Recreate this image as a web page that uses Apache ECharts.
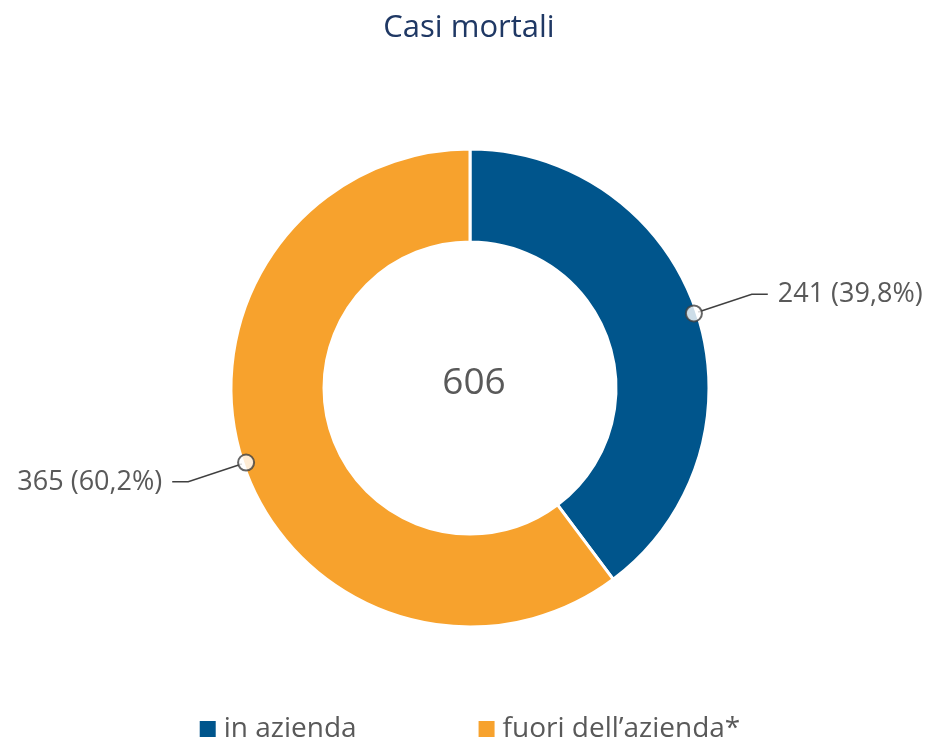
<!DOCTYPE html>
<html><head><meta charset="utf-8">
<script src="https://cdn.jsdelivr.net/npm/echarts@6/dist/echarts.min.js"></script>
<style>html,body{margin:0;padding:0;background:#fff}#c{width:938px;height:744px}</style>
</head><body><div id="c"></div>
<script>
const categories = ['in azienda', 'fuori dell\u2019azienda*'];
const values = [241, 365];
const colors = ['#00558C', '#F7A22D'];
const titleText = 'Casi mortali';

const total = values.reduce((a, b) => a + b, 0);
const fmtPct = v => (v / total * 100).toFixed(1).replace('.', ',');
let cum = 0;
const mids = values.map(v => { const m = cum + v / 2; cum += v; return m; });

const chart = echarts.init(document.getElementById('c'));
chart.setOption({
  animation: false,
  title: [
    { text: titleText, left: 'center', top: 8,
      textStyle: { fontFamily: 'Open Sans', fontSize: 31, fontWeight: 'normal', color: '#1F3864' } },
    { text: String(total), left: 469, top: 360, textAlign: 'center',
      textStyle: { fontFamily: 'Open Sans', fontSize: 37, fontWeight: 'normal', color: '#595959' } }
  ],
  legend: {
    top: 710, left: 'center', itemWidth: 18, itemHeight: 18, itemGap: 120, icon: 'rect',
    textStyle: { fontFamily: 'Open Sans', fontSize: 28, color: '#595959', padding: [0, 0, 0, 2] },
    data: categories
  },
  polar: { center: [470, 388], radius: 239 },
  angleAxis: { type: 'value', min: 0, max: total, startAngle: 90, clockwise: true, show: false },
  radiusAxis: { type: 'value', min: 0, max: 239, show: false },
  series: [
    {
      type: 'pie', center: [470, 388], radius: [146, 239], startAngle: 90, clockwise: true,
      itemStyle: { borderColor: '#fff', borderWidth: 3 },
      label: {
        show: true, position: 'outside', distanceToLabelLine: 10,
        fontFamily: 'Open Sans', fontSize: 27, color: '#595959',
        formatter: p => p.value + ' (' + fmtPct(p.value) + '%)'
      },
      labelLine: { show: true, length: 58, length2: 16, lineStyle: { color: '#404040', width: 1.5 } },
      emphasis: { disabled: true },
      data: categories.map((c, i) => ({ name: c, value: values[i], itemStyle: { color: colors[i] } }))
    },
    {
      type: 'scatter', coordinateSystem: 'polar', symbol: 'circle', symbolSize: 16, z: 10,
      itemStyle: { color: '#fff', borderColor: '#404040', borderWidth: 2 },
      silent: true,
      data: mids.map(m => [236, m])
    }
  ]
});
</script></body></html>
